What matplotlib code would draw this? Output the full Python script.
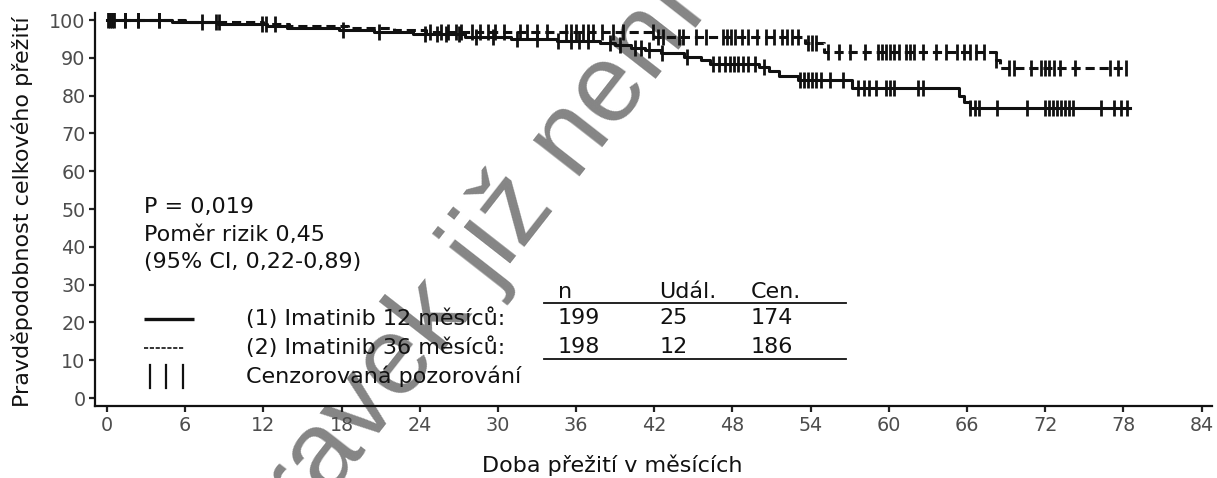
import numpy as np
import matplotlib
matplotlib.use("Agg")
import matplotlib.pyplot as plt

# ---------------- data ----------------
arm1_times = [0, 5.0, 8.5, 12.3, 13.8, 17.8, 20.5, 23.5, 27.5, 31.0, 34.5, 37.8, 39.0,
              40.2, 41.3, 42.5, 44.3, 45.6, 46.3, 50.0, 50.8, 51.6, 53.0, 57.2, 65.4,
              65.8, 66.2]
arm1_surv = [100, 99.5, 99.0, 98.5, 97.9, 97.3, 96.8, 96.2, 95.6, 95.0, 94.5, 94.0, 93.4,
             92.6, 92.0, 91.2, 90.3, 89.4, 88.5, 87.5, 86.6, 85.2, 84.1, 81.9, 80.0,
             78.4, 76.8]
arm1_end = 78.5
arm1_censor = [0.2, 0.4, 1.4, 2.4, 4.0, 7.3, 8.4, 11.9, 12.2, 18.1, 20.9, 24.4, 25.3, 26.0,
               27.0, 28.3, 29.6, 31.5, 33.0, 34.6, 35.6, 36.2, 36.9, 38.6, 39.4, 40.5,
               41.0, 41.6, 42.6, 44.5, 46.5, 47.0, 47.4, 47.8, 48.1, 48.4, 48.8, 49.2,
               49.7, 50.4, 53.2, 53.5, 53.8, 54.1, 54.4, 54.8, 55.5, 56.5, 57.6, 58.1,
               58.5, 59.0, 59.8, 60.1, 60.4, 62.2, 62.6, 66.2, 66.6, 66.9, 68.3, 70.6,
               72.0, 72.3, 72.6, 72.9, 73.2, 73.5, 73.8, 74.1, 76.3, 77.3, 77.8, 78.3]

arm2_times = [0, 6.0, 12.0, 14.0, 18.5, 22.0, 24.5, 42.0, 53.6, 55.0, 68.2, 68.5]
arm2_surv = [100, 99.5, 99.0, 98.5, 98.0, 97.4, 96.8, 95.6, 93.8, 91.6, 89.5, 87.3]
arm2_end = 78.3
arm2_censor = [0.1, 0.5, 1.4, 2.4, 4.0, 8.6, 12.9, 24.8, 25.6, 26.2, 26.8, 27.2, 28.0,
               28.6, 29.2, 29.8, 30.5, 31.7, 32.2, 33.0, 33.8, 35.2, 35.6, 36.0, 36.5,
               36.9, 37.3, 38.0, 38.8, 39.6, 41.9, 42.3, 42.7, 43.9, 44.2, 45.2, 46.0,
               47.3, 47.6, 47.9, 48.2, 48.7, 49.2, 49.9, 50.6, 51.2, 51.8, 52.2, 52.6,
               53.0, 53.8, 54.1, 54.4, 55.3, 56.2, 57.0, 58.2, 59.2, 59.5, 59.8, 60.1,
               60.4, 60.8, 61.3, 61.6, 61.9, 62.6, 63.6, 64.4, 65.2, 65.8, 66.2, 66.7,
               67.3, 68.2, 69.2, 69.6, 70.9, 71.7, 72.0, 72.3, 72.7, 73.1, 74.3, 77.0,
               77.6, 78.2]

x_ticks = list(range(0, 85, 6))
y_ticks = list(range(0, 101, 10))

stats_lines = ["P = 0,019", "Poměr rizik 0,45", "(95% CI, 0,22-0,89)"]
group_labels = ["(1) Imatinib 12 měsíců:", "(2) Imatinib 36 měsíců:"]
censor_label = "Cenzorovaná pozorování"
table_header = ["n", "Udál.", "Cen."]
table_rows = [["199", "25", "174"], ["198", "12", "186"]]

x_label = "Doba přežití v měsících"
y_label = "Pravděpodobnost celkového přežití"
watermark = "Léčivý přípravek již není registrován"

# ---------------- figure ----------------
W, H = 1217, 478
fig = plt.figure(figsize=(W / 100, H / 100), dpi=100)
ax = fig.add_axes([95.3 / W, (H - 406) / H, (1212 - 95.3) / W, (406 - 12.5) / H])
ax.set_xlim(-0.9, 84.8)
ax.set_ylim(-2.1, 102)

# watermark (under everything; the reference shows it cropped by the page)
fig.text(497 / W, 1 - 234 / H, watermark, rotation=52, ha="center", va="center",
         fontsize=80, color="#858585", family="Liberation Sans", zorder=0)
ax.set_zorder(1)
ax.patch.set_alpha(0)

ink = "#111111"
FS = 16


def surv_at(times, surv, t):
    idx = np.searchsorted(np.asarray(times), t, side="right") - 1
    return np.asarray(surv)[idx]


for times, surv, end, cens, ls in [
    (arm1_times, arm1_surv, arm1_end, arm1_censor, "solid"),
    (arm2_times, arm2_surv, arm2_end, arm2_censor, (0, (3.0, 1.6))),
]:
    tx = list(times) + [end]
    sy = list(surv) + [surv[-1]]
    ax.step(tx, sy, where="post", color=ink, lw=2.2, linestyle=ls, zorder=3)
    cy = surv_at(times, surv, np.asarray(cens))
    ax.plot(cens, cy, linestyle="none", marker="|", ms=12, mew=2.0, color=ink, zorder=4)

# axes styling
for s in ["top", "right"]:
    ax.spines[s].set_visible(False)
for s in ["left", "bottom"]:
    ax.spines[s].set_linewidth(1.6)
    ax.spines[s].set_color("#111111")
ax.set_xticks(x_ticks)
ax.set_yticks(y_ticks)
ax.tick_params(axis="both", length=4, width=1.6, color="#222222",
               labelsize=13.8, labelcolor="#4d4d4d", pad=3)

fig.text(612 / W, 1 - 465 / H, x_label, ha="center", va="center", fontsize=FS,
         color="#111111")
fig.text(22 / W, 1 - 212 / H, y_label, ha="center", va="center", fontsize=FS,
         rotation=90, color="#111111")

# statistics block
for txt, yv in zip(stats_lines, [50.5, 43.2, 35.9]):
    ax.text(2.85, yv, txt, ha="left", va="center", fontsize=FS, color="#111111")

# legend-like block
ax.plot([2.85, 6.7], [20.9, 20.9], color=ink, lw=2.4, solid_capstyle="butt")
ax.plot([2.85, 5.9], [13.3, 13.3], color=ink, lw=1.2, linestyle=(0, (2.5, 1.0)))
for xb in [3.3, 4.5, 5.8]:
    ax.plot([xb, xb], [2.6, 8.8], color=ink, lw=1.6)

row_y = [21.1, 13.5]
for lab, yv in zip(group_labels, row_y):
    ax.text(10.7, yv, lab, ha="left", va="center", fontsize=FS, color="#111111")
ax.text(10.7, 5.9, censor_label, ha="left", va="center", fontsize=FS, color="#111111")

col_x = [34.6, 42.4, 49.4]
for cx, h in zip(col_x, table_header):
    ax.text(cx, 28.0, h, ha="left", va="center", fontsize=FS, color="#111111")
for row, yv in zip(table_rows, row_y):
    for cx, v in zip(col_x, row):
        ax.text(cx, yv, v, ha="left", va="center", fontsize=FS, color="#111111")
ax.plot([33.5, 56.7], [25.1, 25.1], color=ink, lw=1.3)
ax.plot([33.5, 56.7], [10.3, 10.3], color=ink, lw=1.3)

fig.savefig("out.png", dpi=100)
